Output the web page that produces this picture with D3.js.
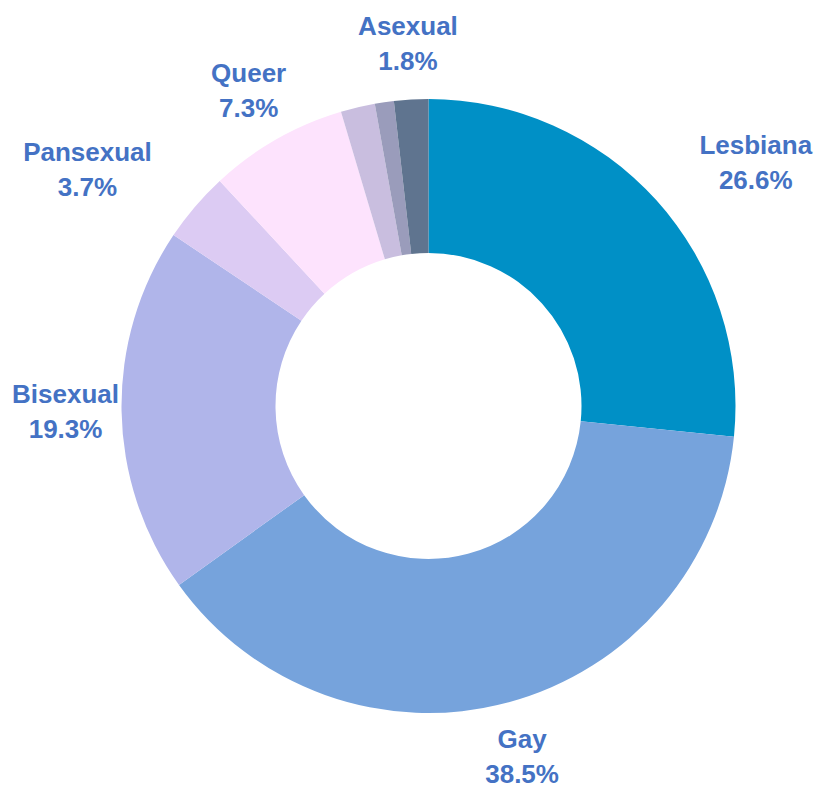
<!DOCTYPE html>
<html>
<head>
<meta charset="utf-8">
<script src="https://cdn.jsdelivr.net/npm/d3@7"></script>
<style>
  body { margin: 0; background: #fff; }
</style>
</head>
<body>
<div id="chart-container"></div>
<script>
const categories = ["Lesbiana", "Gay", "Bisexual", "Pansexual", "Queer", "Otro", "Otros", "Asexual"];
const values = [26.6, 38.5, 19.3, 3.7, 7.3, 1.8, 1.0, 1.8];
const colors = ["#0090c6", "#76a3dc", "#b0b5ea", "#dccbf3", "#fde3fd", "#c9bedf", "#9a9cbb", "#5f748f"];
// only these slices get a label
const labelled = ["Lesbiana", "Gay", "Bisexual", "Pansexual", "Queer", "Asexual"];

const width = 816;
const height = 788;
const cx = 428.5, cy = 406;
const outerR = 307, innerR = 153;
const labelR = 363;

const svg = d3.select("#chart-container")
    .append("svg")
    .attr("width", width)
    .attr("height", height);

const g = svg.append("g")
    .attr("transform", `translate(${cx}, ${cy})`);

const data = categories.map((c, i) => ({ name: c, value: values[i], color: colors[i] }));

const pie = d3.pie()
    .value(d => d.value)
    .sort(null);

const arc = d3.arc()
    .innerRadius(innerR)
    .outerRadius(outerR);

const arcs = pie(data);

g.selectAll(".slice")
    .data(arcs)
    .enter()
    .append("path")
    .attr("class", "slice")
    .attr("d", arc)
    .attr("fill", d => d.data.color);

// labels on the mid angle, a few pushed sideways to clear the ring
const labelShift = { Lesbiana: 58, Pansexual: -65 };
const labelArc = d3.arc().innerRadius(labelR).outerRadius(labelR);

const labels = g.selectAll(".label")
    .data(arcs.filter(d => labelled.includes(d.data.name)))
    .enter()
    .append("text")
    .attr("class", "label")
    .attr("text-anchor", "middle")
    .attr("transform", d => {
        const [x, y] = labelArc.centroid(d);
        return `translate(${x + (labelShift[d.data.name] || 0)}, ${y})`;
    })
    .style("font-family", "'Liberation Sans', Arial, sans-serif")
    .style("font-weight", "bold")
    .style("font-size", "26px")
    .style("fill", "#4472c4");

labels.append("tspan")
    .attr("x", 0)
    .attr("y", -9)
    .text(d => d.data.name);

labels.append("tspan")
    .attr("x", 0)
    .attr("y", 26)
    .text(d => d.data.value.toFixed(1) + "%");
</script>
</body>
</html>
